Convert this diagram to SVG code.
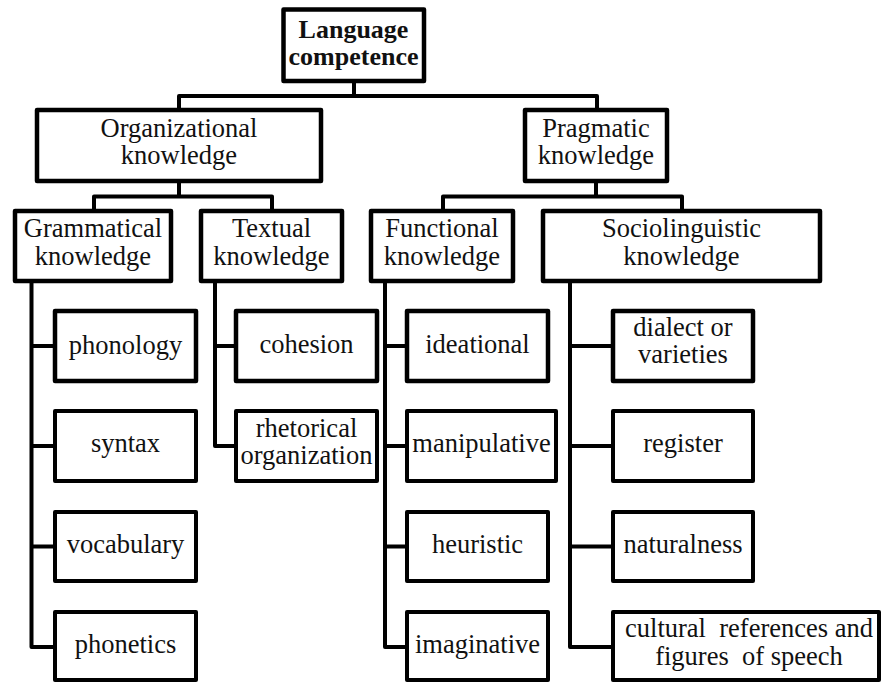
<svg xmlns="http://www.w3.org/2000/svg" width="881" height="684" viewBox="0 0 881 684">
<style>
.box{fill:#fff;stroke:#000;stroke-width:4.5;stroke-linejoin:round}
.leaf{fill:#fff;stroke:#000;stroke-width:4;stroke-linejoin:round}
.con{fill:none;stroke:#000;stroke-width:4;stroke-linejoin:round;stroke-linecap:butt}
.t{font-family:'Liberation Serif','Times New Roman',Times,Tinos,'Noto Serif','Nimbus Roman','FreeSerif','DejaVu Serif',serif;font-size:26.5px;fill:#111;text-anchor:middle}
.b{font-weight:bold;font-size:26px}
</style>
<rect width="881" height="684" fill="#fff"/>
<g id="connectors">
<path class="con" d="M354,83 V96 M179,108 V96 H597 V108"/>
<path class="con" d="M179,183 V196.5 M94,209 V196.5 H272 V209"/>
<path class="con" d="M596,183 V196.5 M443,209 V196.5 H682 V209"/>
<path class="con" d="M31.5,283 V647 H53 M31.5,346 H53 M31.5,446 H53 M31.5,546.5 H53"/>
<path class="con" d="M215,283 V446 H234 M215,346 H234"/>
<path class="con" d="M385,283 V647 H405 M385,346 H405 M385,446 H405 M385,546.5 H405"/>
<path class="con" d="M570,283 V647 H611 M570,346 H611 M570,446 H611 M570,546.5 H611"/>
</g>
<g class="t">
<g id="language-competence">
<rect class="box" x="283.5" y="9.5" width="140.5" height="71.5"/>
<text class="b" x="353.5" y="37.5">Language</text>
<text class="b" x="353.5" y="65">competence</text>
</g>
<g id="organizational">
<rect class="box" x="37" y="110" width="284" height="71"/>
<text x="179" y="137">Organizational</text>
<text x="179" y="163.5">knowledge</text>
</g>
<g id="pragmatic">
<rect class="box" x="525" y="110" width="142" height="71"/>
<text x="596" y="136.5">Pragmatic</text>
<text x="596" y="163.5">knowledge</text>
</g>
<g id="grammatical">
<rect class="box" x="15" y="211" width="156" height="70"/>
<text x="93" y="237">Grammatical</text>
<text x="93" y="265">knowledge</text>
</g>
<g id="textual">
<rect class="box" x="201" y="211" width="141" height="70"/>
<text x="271.5" y="237">Textual</text>
<text x="271.5" y="265">knowledge</text>
</g>
<g id="functional">
<rect class="box" x="371" y="211" width="142" height="70"/>
<text x="442" y="237">Functional</text>
<text x="442" y="265">knowledge</text>
</g>
<g id="sociolinguistic">
<rect class="box" x="543" y="211" width="277" height="70"/>
<text x="681.5" y="237">Sociolinguistic</text>
<text x="681.5" y="265">knowledge</text>
</g>
<g id="phonology">
<rect class="leaf" x="55" y="311" width="141" height="70" style="stroke-width:4.5"/>
<text x="125.5" y="354">phonology</text>
</g>
<g id="syntax">
<rect class="leaf" x="55" y="411" width="141" height="70"/>
<text x="125.5" y="452">syntax</text>
</g>
<g id="vocabulary">
<rect class="leaf" x="55" y="512" width="141" height="69"/>
<text x="125.5" y="553">vocabulary</text>
</g>
<g id="phonetics">
<rect class="leaf" x="55" y="612" width="141" height="68"/>
<text x="125.5" y="653">phonetics</text>
</g>
<g id="cohesion">
<rect class="leaf" x="236" y="311" width="141" height="70" style="stroke-width:4.5"/>
<text x="306.5" y="353">cohesion</text>
</g>
<g id="rhetorical">
<rect class="leaf" x="236" y="411" width="141" height="70"/>
<text x="306.5" y="437">rhetorical</text>
<text x="306.5" y="464">organization</text>
</g>
<g id="ideational">
<rect class="leaf" x="407" y="311" width="141" height="70" style="stroke-width:4.5"/>
<text x="477.5" y="353">ideational</text>
</g>
<g id="manipulative">
<rect class="leaf" x="407" y="411" width="149" height="70"/>
<text x="481.5" y="452">manipulative</text>
</g>
<g id="heuristic">
<rect class="leaf" x="407" y="512" width="141" height="69"/>
<text x="477.5" y="553">heuristic</text>
</g>
<g id="imaginative">
<rect class="leaf" x="407" y="612" width="141" height="68"/>
<text x="477.5" y="653">imaginative</text>
</g>
<g id="dialect">
<rect class="leaf" x="613" y="311" width="140" height="70" style="stroke-width:4.5"/>
<text x="683" y="336">dialect or</text>
<text x="683" y="363">varieties</text>
</g>
<g id="register">
<rect class="leaf" x="613" y="411" width="140" height="70"/>
<text x="683" y="452">register</text>
</g>
<g id="naturalness">
<rect class="leaf" x="613" y="512" width="140" height="69"/>
<text x="683" y="553">naturalness</text>
</g>
<g id="cultural">
<rect class="leaf" x="613" y="612" width="266" height="68"/>
<text x="749" y="637" xml:space="preserve">cultural  references and</text>
<text x="749" y="665" xml:space="preserve">figures  of speech</text>
</g>
</g>
</svg>
